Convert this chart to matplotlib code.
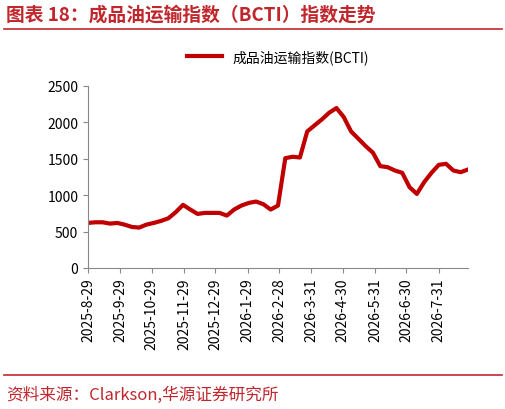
import matplotlib
matplotlib.use("Agg")
import matplotlib.pyplot as plt
import pandas as pd

plt.rcParams['font.family'] = ['Noto Sans CJK SC', 'DejaVu Sans']

dates = pd.date_range("2025-08-29", periods=53, freq="7D")
bcti = [619, 628, 628, 610, 619, 596, 564, 555, 596, 619, 647, 683, 766, 867,
        803, 743, 757, 757, 757, 720, 803, 858, 894, 913, 876, 803, 858, 1509,
        1528, 1518, 1876, 1959, 2041, 2133, 2197, 2073, 1876, 1775, 1674, 1583,
        1399, 1385, 1339, 1307, 1110, 1018, 1179, 1307, 1417, 1431, 1339, 1316, 1353]
tick_labels = ["2025-8-29", "2025-9-29", "2025-10-29", "2025-11-29", "2025-12-29",
               "2026-1-29", "2026-2-28", "2026-3-31", "2026-4-30", "2026-5-31",
               "2026-6-30", "2026-7-31"]

fig = plt.figure(figsize=(5.06, 4.10), dpi=100)
ax = fig.add_axes([88/506, 1-269/410, 380/506, 182/410])
ax.plot(dates, bcti, color="#C00000", lw=3, label="成品油运输指数(BCTI)")
ax.set_ylim(0, 2500)
ax.set_yticks(range(0, 2501, 500))
ax.set_xlim(dates[0], dates[-1])
ticks = pd.to_datetime(tick_labels)
ax.set_xticks(ticks)
ax.set_xticklabels(tick_labels, rotation=90, fontsize=10)
ax.tick_params(axis="y", labelsize=10)
for s in ["top", "right"]:
    ax.spines[s].set_visible(False)
for s in ["left", "bottom"]:
    ax.spines[s].set_color("#888888")
ax.tick_params(colors="#888888", labelcolor="black")
ax.legend(loc="upper center", bbox_to_anchor=(0.5, 1.27), frameon=False, fontsize=10,
          handlelength=2.5)

red = "#C0272D"
fig.text(0.012, 0.963, "图表 18：成品油运输指数（BCTI）指数走势", color=red,
         fontsize=13.5, fontweight="bold", va="center")
fig.add_artist(plt.Line2D([0.008, 0.992], [0.927, 0.927], color=red, lw=1.2))
fig.add_artist(plt.Line2D([0.008, 0.992], [0.083, 0.083], color=red, lw=1.2))
fig.text(0.012, 0.035, "资料来源：Clarkson,华源证券研究所", color=red, fontsize=12, va="center")
fig.savefig("out.png", dpi=100)
